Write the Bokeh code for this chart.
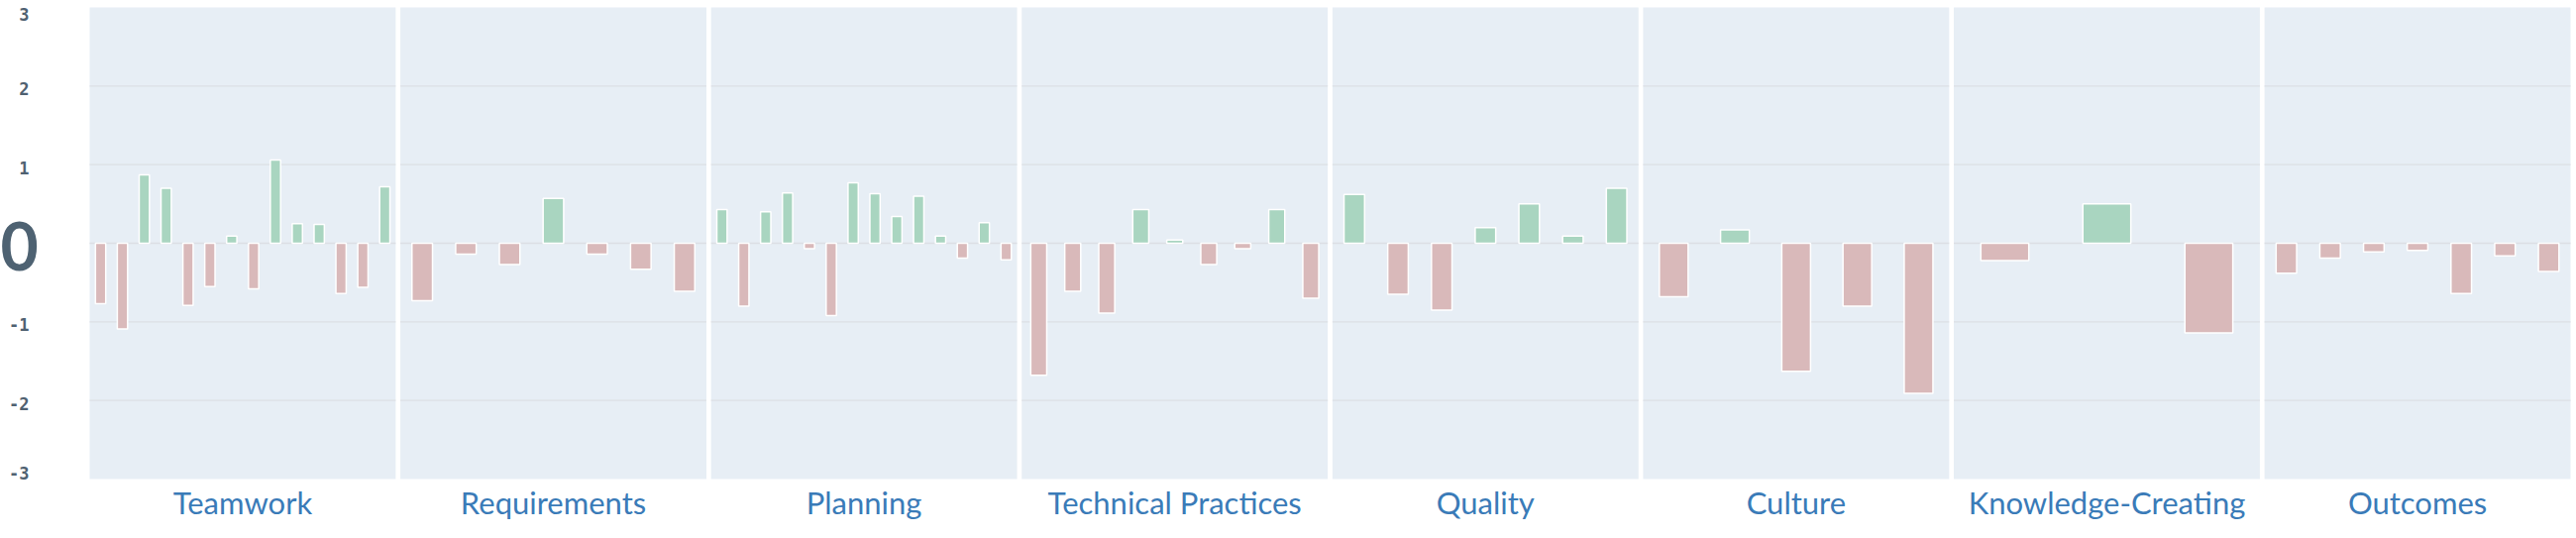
from bokeh.plotting import figure
from bokeh.models import ColumnDataSource
from bokeh.core.properties import value, field
from bokeh.embed import file_html
from bokeh.resources import INLINE

categories = ["Teamwork", "Requirements", "Planning", "Technical Practices",
              "Quality", "Culture", "Knowledge-Creating", "Outcomes"]

teamwork = [-0.77, -1.09, 0.87, 0.70, -0.79, -0.55, 0.09, -0.58, 1.06, 0.25, 0.24, -0.64, -0.56, 0.72]
requirements = [-0.73, -0.14, -0.27, 0.57, -0.14, -0.33, -0.61]
planning = [0.43, -0.80, 0.40, 0.64, -0.07, -0.92, 0.77, 0.63, 0.34, 0.60, 0.09, -0.19, 0.26, -0.21]
technical = [-1.68, -0.61, -0.89, 0.43, 0.04, -0.27, -0.07, 0.43, -0.70]
quality = [0.62, -0.65, -0.85, 0.20, 0.50, 0.09, 0.70]
culture = [-0.68, 0.17, -1.63, -0.80, -1.91]
knowledge = [-0.22, 0.50, -1.14]
outcomes = [-0.38, -0.19, -0.11, -0.09, -0.64, -0.16, -0.36]

y_ticks = [3, 2, 1, -1, -2, -3]
y_tick_labels = ["3", "2", "1", "-1", "-2", "-3"]
zero_label = "0"
grid_values = [-2, -1, 0, 1, 2]

groups = [teamwork, requirements, planning, technical, quality, culture, knowledge, outcomes]

# ---- layout (pixels of the 2600x543 canvas) ----
W, H = 2600, 543
PLOT_L, PLOT_R, PLOT_T, PLOT_B = 90, 2594, 7, 483
PW = 0.985          # panel width in x units (1 unit per panel)
BAR_FRAC = 0.47
NP = len(categories)

sx = (PLOT_R - PLOT_L) / (NP - 1 + PW)     # px per x unit
sy = (PLOT_B - PLOT_T) / 6.0                # px per y unit
x0 = -PW / 2 - PLOT_L / sx
x1 = (NP - 1 + PW / 2) + (W - PLOT_R) / sx
y1 = 3 + PLOT_T / sy
y0 = -3 - (H - PLOT_B) / sy

def px_to_x(px):
    return x0 + px / sx

def py_to_y(py):
    return y1 - py / sy

POS_COLOR = "#a9d5c0"
NEG_COLOR = "#d9b9ba"
PANEL_BG = "#e7eef5"
GRID_COLOR = "#dcdfe4"
LABEL_BLUE = "#3a7bb8"
TICK_COLOR = "#4f6171"

panel_src = ColumnDataSource(dict(
    left=[i - PW / 2 for i in range(NP)],
    right=[i + PW / 2 for i in range(NP)],
))

gx0, gx1, gy = [], [], []
for i in range(NP):
    for g in grid_values:
        gx0.append(i - PW / 2)
        gx1.append(i + PW / 2)
        gy.append(g)
grid_src = ColumnDataSource(dict(x0=gx0, x1=gx1, y=gy))

bx, bw, bv, bc = [], [], [], []
for i, vals in enumerate(groups):
    n = len(vals)
    slot = PW / n
    for k, v in enumerate(vals):
        bx.append(i - PW / 2 + (k + 0.5) * slot)
        bw.append(slot * BAR_FRAC)
        bv.append(v)
        bc.append(POS_COLOR if v >= 0 else NEG_COLOR)
bar_src = ColumnDataSource(dict(x=bx, w=bw, top=bv, color=bc))

p = figure(width=W, height=H, x_range=(x0, x1), y_range=(y0, y1),
           output_backend="svg", toolbar_location=None,
           x_axis_type=None, y_axis_type=None,
           min_border=0)
p.background_fill_color = "white"
p.border_fill_color = "white"
p.outline_line_color = None
p.grid.visible = False

p.quad(left="left", right="right", bottom=-3, top=3, source=panel_src,
       fill_color=PANEL_BG, line_color=None)
p.segment(x0="x0", x1="x1", y0="y", y1="y", source=grid_src,
          line_color=GRID_COLOR, line_width=1.3)
p.vbar(x="x", width="w", bottom=0, top="top", source=bar_src,
       fill_color="color", line_color="white", line_width=1.5)

# y tick labels: centred on their gridline, kept inside at the extremes
baselines = ["top" if t == max(y_ticks) else "bottom" if t == min(y_ticks) else "middle"
             for t in y_ticks]
tick_src = ColumnDataSource(dict(
    x=[px_to_x(29)] * len(y_ticks),
    y=[t - 3 / sy if b == "middle" else t for t, b in zip(y_ticks, baselines)],
    text=y_tick_labels,
    baseline=baselines,
))
p.text(x="x", y="y", text="text", source=tick_src,
       text_font=value("DejaVu Sans Mono"), text_font_style="bold",
       text_font_size="17px", text_color=TICK_COLOR,
       text_align="right", text_baseline=field("baseline"))

# large zero label
p.text(x=[px_to_x(0)], y=[-3 / sy], text=[zero_label],
       text_font=value("Lato"), text_font_style="bold",
       text_font_size="66px", text_color="#4e6272",
       text_align="left", text_baseline="middle")

# category labels under each panel
cat_src = ColumnDataSource(dict(
    x=list(range(NP)),
    y=[py_to_y(506)] * NP,
    text=categories,
))
p.text(x="x", y="y", text="text", source=cat_src,
       text_font=value("Lato"), text_font_size="31px", text_color=LABEL_BLUE,
       text_align="center", text_baseline="alphabetic")

open("out.html", "w").write(file_html(p, INLINE))
